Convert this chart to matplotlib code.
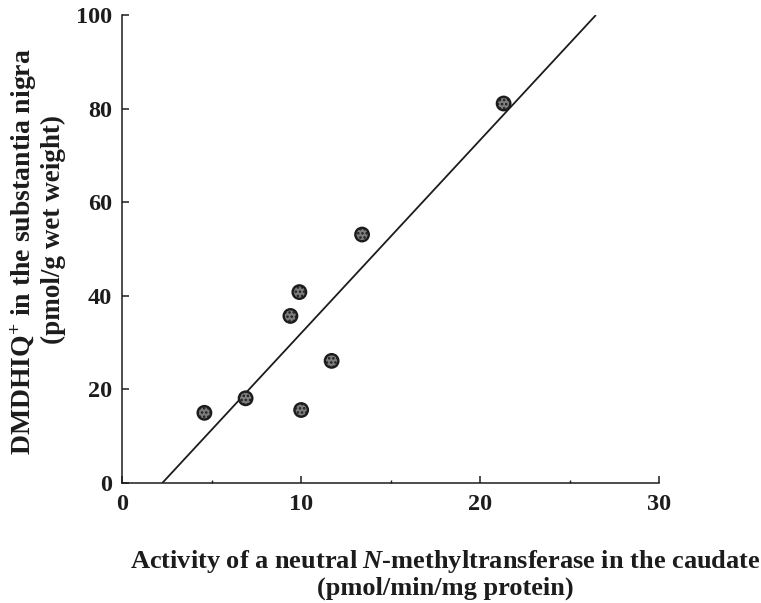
import matplotlib
matplotlib.use("Agg")
import matplotlib.pyplot as plt
from matplotlib import ticker

plt.rcParams["font.family"] = ["Liberation Serif", "DejaVu Serif"]
plt.rcParams["mathtext.fontset"] = "custom"
plt.rcParams["mathtext.rm"] = "Liberation Serif"
plt.rcParams["mathtext.bf"] = "Liberation Serif:bold"
plt.rcParams["mathtext.it"] = "Liberation Serif:italic:bold"
plt.rcParams["hatch.linewidth"] = 1.2

# N-methyltransferase activity (caudate) vs DMDHIQ+ level (substantia nigra)
activity = [4.6, 6.9, 9.4, 9.9, 10.0, 11.7, 13.4, 21.3]
dmdhiq = [15.0, 18.1, 35.7, 40.8, 15.6, 26.1, 53.1, 81.1]

# regression line endpoints
fit_x = [2.25, 26.45]
fit_y = [0, 100]

x_ticks = [0, 10, 20, 30]
y_ticks = [0, 20, 40, 60, 80, 100]

ink = "#1c1c1c"

fig = plt.figure(figsize=(7.61, 6.03), dpi=100)
ax = fig.add_axes([0.1603, 0.199, 0.7063, 0.776])

ax.plot(fit_x, fit_y, color=ink, lw=1.3, solid_capstyle="butt", zorder=2)
ax.scatter(activity, dmdhiq, s=9.7 ** 2, facecolor="#7e7e7e", edgecolor=ink,
           linewidth=1.7, hatch="....", zorder=3)

ax.set_xlim(0, 30)
ax.set_ylim(0, 100)
ax.xaxis.set_major_locator(ticker.FixedLocator(x_ticks))
ax.xaxis.set_minor_locator(ticker.MultipleLocator(5))
ax.yaxis.set_major_locator(ticker.FixedLocator(y_ticks))

for side in ("top", "right"):
    ax.spines[side].set_visible(False)
for side in ("left", "bottom"):
    ax.spines[side].set_linewidth(1.1)
    ax.spines[side].set_color(ink)

ax.tick_params(axis="both", which="major", direction="in", length=5,
               width=1.1, color=ink, labelsize=17.5, labelcolor=ink)
ax.tick_params(axis="x", which="major", pad=8)
ax.tick_params(axis="y", which="major", pad=7)
ax.tick_params(axis="x", which="minor", direction="in", length=2.5,
               width=1.0, color=ink)
for lab in ax.get_xticklabels() + ax.get_yticklabels():
    lab.set_fontweight("bold")

# axis titles
fig.text(0.585, 0.068,
         r"Activity of a neutral $\mathit{N}$-methyltransferase in the caudate",
         ha="center", va="center", fontsize=19, fontweight="bold", color=ink)
fig.text(0.585, 0.024, "(pmol/min/mg protein)", ha="center", va="center",
         fontsize=19, fontweight="bold", color=ink)
fig.text(0.031, 0.582, r"DMDHIQ$^{\mathbf{+}}$ in the substantia nigra",
         ha="center", va="center", rotation=90, fontsize=20,
         fontweight="bold", color=ink)
fig.text(0.070, 0.620, "(pmol/g wet weight)", ha="center", va="center",
         rotation=90, fontsize=19.5, fontweight="bold", color=ink)

fig.savefig("out.png", dpi=100)
